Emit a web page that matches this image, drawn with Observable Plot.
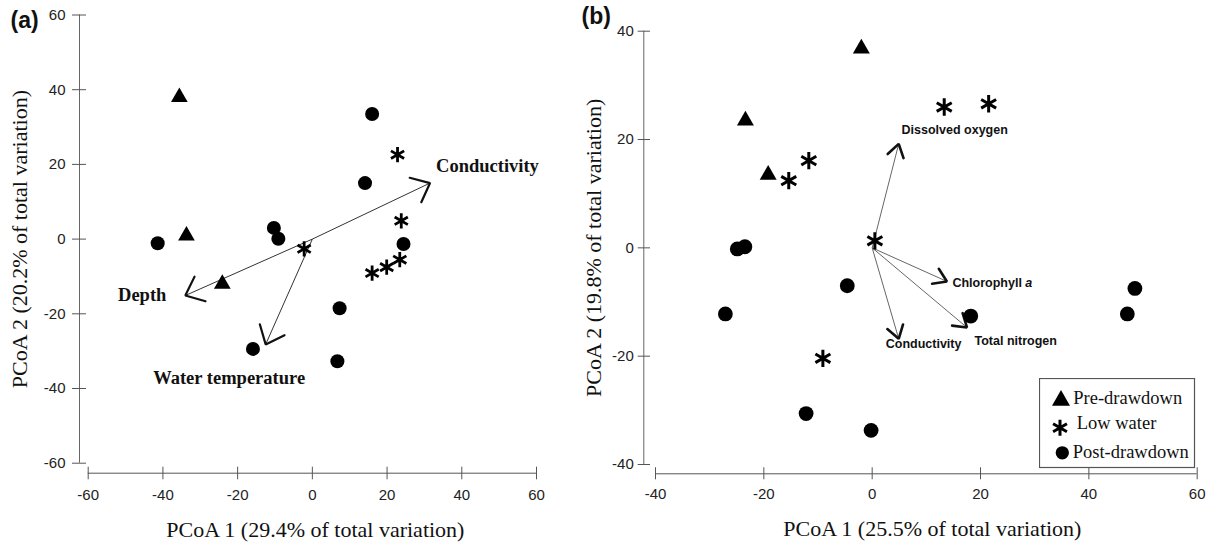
<!DOCTYPE html>
<html><head><meta charset="utf-8">
<script src="https://cdn.jsdelivr.net/npm/d3@7"></script>
<script src="https://cdn.jsdelivr.net/npm/@observablehq/plot@0.6"></script>
<style>
html,body{margin:0;padding:0;background:#fff;}
#wrap{position:relative;width:1215px;height:543px;overflow:hidden;background:#fff;}
#wrap svg{display:block;}
#pa{position:absolute;left:0;top:0;}
#pb{position:absolute;left:580px;top:0;}
#legend{position:absolute;left:1039px;top:378px;}
</style></head><body>
<div id="wrap"><div id="pa"></div><div id="pb"></div><div id="legend"></div></div>
<script>
// ---------- data ----------
const groups = ["Pre-drawdown", "Low water", "Post-drawdown"];

// panel (a)
const aPre  = [[-35.6, 38.0], [-33.7, 0.9], [-24.1, -12.0]];
const aLow  = [[22.8, 22.6], [23.8, 4.9], [-2.2, -2.6], [23.4, -5.5], [19.9, -7.5], [16.0, -9.1]];
const aPost = [[-41.4, -1.1], [-10.3, 3.0], [-9.1, 0.1], [16.0, 33.5], [14.1, 15.0], [24.4, -1.3], [7.3, -18.5], [-15.9, -29.4], [6.7, -32.7]];
const aVecNames = ["Conductivity", "Depth", "Water temperature"];
const aVecX = [31.5, -34.0, -12.5];
const aVecY = [15.0, -15.1, -28.2];
const aXTicks = [-60, -40, -20, 0, 20, 40, 60];
const aYTicks = [-60, -40, -20, 0, 20, 40, 60];
const aXTitle = "PCoA 1 (29.4% of total variation)";
const aYTitle = "PCoA 2 (20.2% of total variation)";
const aTag = "(a)";

// panel (b)
const bPre  = [[-2.0, 36.8], [-23.4, 23.5], [-19.2, 13.5]];
const bLow  = [[-15.4, 12.4], [-11.7, 16.1], [0.5, 1.3], [13.3, 26.0], [21.5, 26.6], [-9.1, -20.4]];
const bPost = [[-24.9, -0.2], [-23.5, 0.2], [-4.6, -7.0], [-27.1, -12.2], [18.2, -12.6], [48.5, -7.5], [47.1, -12.2], [-12.2, -30.6], [-0.2, -33.7]];
const bVecNames = ["Dissolved oxygen", "Chlorophyll a", "Total nitrogen", "Conductivity"];
const bVecX = [4.9, 13.8, 17.5, 4.9];
const bVecY = [19.2, -6.2, -14.7, -16.8];
const bXTicks = [-40, -20, 0, 20, 40, 60];
const bYTicks = [-40, -20, 0, 20, 40];
const bXTitle = "PCoA 1 (25.5% of total variation)";
const bYTitle = "PCoA 2 (19.8% of total variation)";
const bTag = "(b)";

// ---------- layout / style ----------
const SERIF = "'Liberation Serif', 'Times New Roman', serif";
const SANS = "'Liberation Sans', Arial, sans-serif";
const H = 543;
const fmt = d => `${d}`;

function vectors(names, xs, ys) { return names.map((n, i) => ({name: n, x: xs[i], y: ys[i]})); }
// arrowhead wings computed from the vector tips (equal aspect, k = px per unit)
function heads(vecs, k, len, halfDeg) {
  const a = halfDeg * Math.PI / 180, L = len / k, rows = [];
  for (const v of vecs) {
    const phi = Math.atan2(-v.y, -v.x);
    rows.push({name: v.name, x: v.x + L * Math.cos(phi + a), y: v.y + L * Math.sin(phi + a)});
    rows.push({name: v.name, x: v.x, y: v.y});
    rows.push({name: v.name, x: v.x + L * Math.cos(phi - a), y: v.y + L * Math.sin(phi - a)});
  }
  return rows;
}
const X = d => d[0], Y = d => d[1];

// ---------- panel (a) ----------
const A = {width: 580, left: 87.7, right: 44, top: 14.5, bottom: 80.3};
const kA = (A.width - A.left - A.right) / (d3.max(aXTicks) - d3.min(aXTicks));
const aVecs = vectors(aVecNames, aVecX, aVecY);
const aLabelPos = {
  "Conductivity": {textAnchor: "start", dx: 6, dy: -16.5},
  "Depth": {textAnchor: "end", dx: -19, dy: 0},
  "Water temperature": {textAnchor: "middle", dx: -36.5, dy: 33.5}
};

const plotA = Plot.plot({
  width: A.width, height: H,
  marginLeft: A.left, marginRight: A.right, marginTop: A.top, marginBottom: A.bottom,
  x: {domain: [d3.min(aXTicks), d3.max(aXTicks)]},
  y: {domain: [d3.min(aYTicks), d3.max(aYTicks)]},
  style: {fontFamily: SANS, fontSize: "15px", color: "#222", background: "white", overflow: "visible"},
  marks: [
    Plot.ruleX([d3.min(aXTicks)], {y1: d3.min(aYTicks), y2: d3.max(aYTicks), dx: -8.7, stroke: "#666"}),
    Plot.ruleY([d3.min(aYTicks)], {x1: d3.min(aXTicks), x2: d3.max(aXTicks), dy: 10, stroke: "#555"}),
    Plot.axisY({ticks: aYTicks, anchor: "left", tickSize: 14, tickPadding: 7, dx: -1.7, tickFormat: fmt, label: null, stroke: "#555", fontSize: 15}),
    Plot.axisX({ticks: aXTicks, anchor: "bottom", tickSize: 12.6, tickPadding: 10, dy: 4, tickFormat: fmt, label: null, stroke: "#555", fontSize: 15}),
    Plot.text([aXTitle], {text: d => d, frameAnchor: "bottom", textAnchor: "middle", lineAnchor: "middle", dx: 3, dy: 67, fontFamily: SERIF, fontSize: 22, fill: "#111"}),
    Plot.text([aYTitle], {text: d => d, frameAnchor: "left", textAnchor: "middle", lineAnchor: "middle", rotate: -90, dx: -68.7, fontFamily: SERIF, fontSize: 22, fill: "#111"}),
    Plot.text([aTag], {text: d => d, frameAnchor: "top-left", textAnchor: "start", lineAnchor: "middle", dx: -77.7, dy: 5.5, fontWeight: "bold", fontSize: 23, fill: "#111"}),
    Plot.link(aVecs, {x1: () => 0, y1: () => 0, x2: "x", y2: "y", stroke: "#333", strokeWidth: 1}),
    Plot.line(heads(aVecs, kA, 21, 40), {x: "x", y: "y", z: "name", stroke: "#111", strokeWidth: 2.2, strokeLinejoin: "miter", strokeLinecap: "round"}),
    ...aVecs.map(v => Plot.text([v], {x: "x", y: "y", text: "name", lineAnchor: "middle", ...aLabelPos[v.name], fontFamily: SERIF, fontWeight: "bold", fontSize: 18.5, fill: "#111"})),
    Plot.dot(aPost, {x: X, y: Y, r: 7, symbol: "circle", fill: "black"}),
    Plot.dot(aPre, {x: X, y: Y, r: 6.2, symbol: "triangle", fill: "black"}),
    Plot.dot(aLow, {x: X, y: Y, r: 7.2, symbol: "asterisk", stroke: "black", strokeWidth: 2.8})
  ]
});
document.getElementById("pa").appendChild(plotA);

// ---------- panel (b) ----------
const B = {width: 635, left: 75, right: 18.3, top: 30.7, bottom: 79};
const kB = (B.width - B.left - B.right) / (d3.max(bXTicks) - d3.min(bXTicks));
const bVecs = vectors(bVecNames, bVecX, bVecY);
const bLabelPos = {
  "Dissolved oxygen": {textAnchor: "start", dx: 2.8, dy: -14},
  "Chlorophyll a": {textAnchor: "start", dx: 5.5, dy: 1.8},
  "Total nitrogen": {textAnchor: "start", dx: 7.5, dy: 14},
  "Conductivity": {textAnchor: "start", dx: -13, dy: 5}
};

const plotB = Plot.plot({
  width: B.width, height: H,
  marginLeft: B.left, marginRight: B.right, marginTop: B.top, marginBottom: B.bottom,
  x: {domain: [d3.min(bXTicks), d3.max(bXTicks)]},
  y: {domain: [d3.min(bYTicks), d3.max(bYTicks)]},
  style: {fontFamily: SANS, fontSize: "15px", color: "#222", background: "white", overflow: "visible"},
  marks: [
    Plot.ruleX([d3.min(bXTicks)], {y1: d3.min(bYTicks), y2: d3.max(bYTicks), dx: -11.7, stroke: "#666"}),
    Plot.ruleY([d3.min(bYTicks)], {x1: d3.min(bXTicks), x2: d3.max(bXTicks), dy: 9.3, stroke: "#555"}),
    Plot.axisY({ticks: bYTicks, anchor: "left", tickSize: 12.3, tickPadding: 4.4, dx: -5, tickFormat: fmt, label: null, stroke: "#555", fontSize: 15}),
    Plot.axisX({ticks: bXTicks, anchor: "bottom", tickSize: 12, tickPadding: 9, dy: 3.3, tickFormat: fmt, label: null, stroke: "#555", fontSize: 15}),
    Plot.text([bXTitle], {text: d => d, frameAnchor: "bottom", textAnchor: "middle", lineAnchor: "middle", dx: 6, dy: 64, fontFamily: SERIF, fontSize: 22, fill: "#111"}),
    Plot.text([bYTitle], {text: d => d, frameAnchor: "left", textAnchor: "middle", lineAnchor: "middle", rotate: -90, dx: -62, fontFamily: SERIF, fontSize: 22, fill: "#111"}),
    Plot.text([bTag], {text: d => d, frameAnchor: "top-left", textAnchor: "start", lineAnchor: "middle", dx: -74, dy: -14.7, fontWeight: "bold", fontSize: 23, fill: "#111"}),
    Plot.link(bVecs, {x1: () => 0, y1: () => 0, x2: "x", y2: "y", stroke: "#555", strokeWidth: 0.9}),
    Plot.line(heads(bVecs, kB, 15, 33), {x: "x", y: "y", z: "name", stroke: "#111", strokeWidth: 2.6, strokeLinejoin: "miter", strokeLinecap: "round"}),
    ...bVecs.map(v => Plot.text([v], {x: "x", y: "y", text: "name", lineAnchor: "middle", ...bLabelPos[v.name], fontFamily: SANS, fontWeight: "bold", fontSize: 12.5, fill: "#111"})),
    Plot.dot(bPost, {x: X, y: Y, r: 7.4, symbol: "circle", fill: "black"}),
    Plot.dot(bPre, {x: X, y: Y, r: 6.3, symbol: "triangle", fill: "black"}),
    Plot.dot(bLow, {x: X, y: Y, r: 8.2, symbol: "asterisk", stroke: "black", strokeWidth: 3})
  ]
});
// italic "a" in "Chlorophyll a"
plotB.querySelectorAll("text").forEach(t => {
  if (t.textContent === "Chlorophyll a") {
    while (t.firstChild) t.removeChild(t.firstChild);
    t.appendChild(document.createTextNode("Chlorophyll "));
    const ts = document.createElementNS("http://www.w3.org/2000/svg", "tspan");
    ts.setAttribute("font-style", "italic");
    ts.textContent = "a";
    t.appendChild(ts);
  }
});
document.getElementById("pb").appendChild(plotB);

// ---------- legend ----------
const legendRows = [
  {type: d3.symbolTriangle, size: 140, fill: "black", stroke: "none", sw: 0, sx: 22, sy: 22.5, tx: 34.3, ty: 20.5},
  {type: d3.symbolAsterisk, size: 180, fill: "none", stroke: "black", sw: 3, sx: 21, sy: 49.8, tx: 37.7, ty: 45.5},
  {type: d3.symbolCircle, size: 139, fill: "black", stroke: "none", sw: 0, sx: 23.3, sy: 74.8, tx: 33.7, ty: 74.2}
];
const lg = d3.select("#legend").append("svg").attr("width", 157).attr("height", 91);
lg.append("rect").attr("x", 0.5).attr("y", 0.5).attr("width", 155).attr("height", 89)
  .attr("fill", "white").attr("stroke", "#555").attr("stroke-width", 1.2);
groups.forEach((g, i) => {
  const r = legendRows[i];
  lg.append("path").attr("d", d3.symbol(r.type, r.size)())
    .attr("transform", `translate(${r.sx},${r.sy})`)
    .attr("fill", r.fill).attr("stroke", r.stroke).attr("stroke-width", r.sw);
  lg.append("text").attr("x", r.tx).attr("y", r.ty).attr("dy", "0.32em")
    .attr("font-family", SERIF).attr("font-size", 18.5).attr("fill", "#111").text(g);
});
</script>
</body></html>
